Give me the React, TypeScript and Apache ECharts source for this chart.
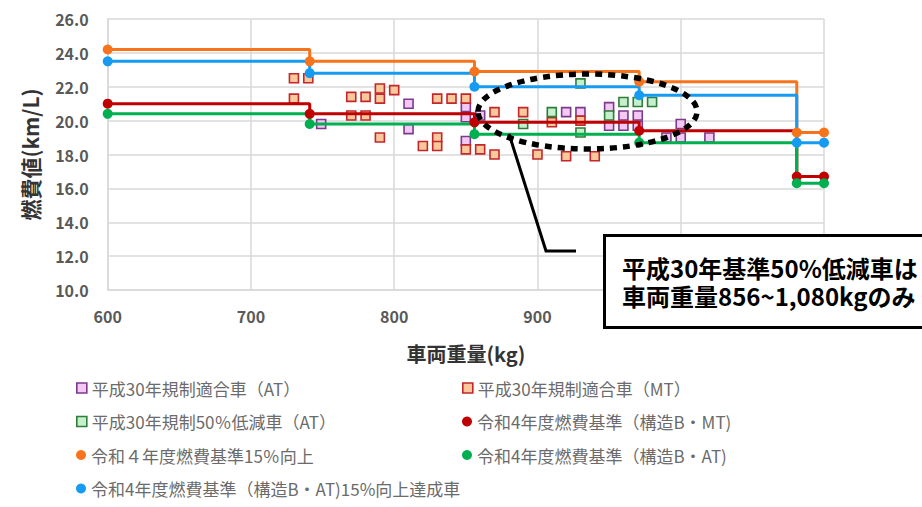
import React, { useEffect, useRef } from "react";
import * as echarts from "echarts";

// ---- data ----
const atVehicles: [number, number][] = [
  [749, 19.8], [810, 21.0], [810, 19.5], [850, 20.8], [850, 20.2], [850, 18.8],
  [860, 20.3], [920, 20.5], [930, 20.5], [950, 20.8], [950, 19.7], [960, 20.3],
  [960, 19.7], [970, 20.3], [970, 19.7], [990, 19.0], [1000, 19.8], [1000, 19.0],
  [1020, 19.0],
];
const mtVehicles: [number, number][] = [
  [730, 22.5], [740, 22.5], [730, 21.3], [770, 21.4], [780, 21.4], [790, 21.9],
  [790, 21.3], [800, 21.8], [770, 20.3], [780, 20.3], [790, 19.0], [820, 18.5],
  [830, 19.0], [830, 18.5], [830, 21.3], [840, 21.3], [850, 21.3], [850, 18.3],
  [860, 18.3], [870, 20.5], [870, 18.0], [890, 20.5], [900, 18.0], [910, 19.9],
  [920, 17.9], [930, 20.0], [940, 17.9],
];
const reduced50Vehicles: [number, number][] = [
  [890, 19.8], [910, 20.5], [930, 22.2], [930, 19.3], [950, 20.3], [960, 21.1],
  [970, 21.1], [980, 21.1],
];
const weightBreaks = [600, 741, 856, 971, 1081, 1100];
const redMTLevels = [21.0, 20.4, 19.9, 19.4, 16.7, 16.7];
const orange15Levels = [24.2, 23.5, 22.9, 22.3, 19.3, 19.3];
const greenATLevels = [20.4, 19.8, 19.2, 18.7, 16.3, 16.3];
const blue15Levels = [23.5, 22.8, 22.0, 21.5, 18.7, 18.7];

const xTicks = { min: 600, max: 1100, interval: 100 };
const yTicks = { min: 10, max: 26, interval: 2 };
// tick labels hidden behind the annotation box in the reference
const hiddenXTickLabels = [1000, 1100];

const annotationLines = ["平成30年基準50%低減車は", "車両重量856~1,080kgのみ"];

const N_AT = "平成30年規制適合車（AT）";
const N_MT = "平成30年規制適合車（MT）";
const N_50 = "平成30年規制50％低減車（AT）";
const N_RED = "令和4年度燃費基準（構造B・MT)";
const N_ORA = "令和４年度燃費基準15％向上";
const N_GRN = "令和4年度燃費基準（構造B・AT)";
const N_BLU = "令和4年度燃費基準（構造B・AT)15%向上達成車";

const FONT = '"Noto Sans CJK JP", "Noto Sans", sans-serif';

const C = {
  red: "#c00000",
  orange: "#f7741c",
  green: "#00b050",
  blue: "#159cf2",
  atFill: "#f3c8f3",
  atBorder: "#7b3a8c",
  mtFill: "#f9c99b",
  mtBorder: "#c3262b",
  gFill: "#c6efce",
  gBorder: "#2e7d3a",
};

const stepData = (levels: number[]) =>
  weightBreaks.map((w, i) => [w, levels[i]]);

export default function App() {
  const ref = useRef<HTMLDivElement>(null);
  useEffect(() => {
    if (!ref.current) return;
    const chart = echarts.init(ref.current, undefined, { renderer: "svg" });
    const scatter = (name: string, data: [number, number][], fill: string, border: string) => ({
      name,
      type: "scatter",
      data,
      symbol: "rect",
      symbolSize: 9,
      itemStyle: { color: fill, borderColor: border, borderWidth: 1.6, opacity: 1 },
      z: 2,
    });
    const step = (name: string, levels: number[], color: string) => ({
      name,
      type: "line",
      step: "end",
      data: stepData(levels),
      symbol: "circle",
      symbolSize: 10,
      showSymbol: true,
      lineStyle: { color, width: 3 },
      itemStyle: { color },
      z: 3,
    });
    const legendText = { fontFamily: FONT, fontSize: 17, color: "#6b6b6b", lineHeight: 20 };
    const gridStyle = { color: "#d9d9d9", width: 1.5 };
    const legendItem = (item: any, left: number, top: number) => ({
      orient: "horizontal",
      left,
      top,
      itemWidth: 10,
      itemHeight: 10,
      itemGap: 6,
      textStyle: legendText,
      data: [item],
    });
    const rowTop = [373, 406.5, 440, 473.5];
    const colLeft = [71, 457];
    chart.setOption({
      animation: false,
      textStyle: { fontFamily: FONT },
      grid: { left: 107.7, right: 98, top: 19, bottom: 217, containLabel: false },
      xAxis: {
        type: "value",
        ...xTicks,
        name: "車両重量(kg)",
        nameLocation: "middle",
        nameGap: 53,
        nameTextStyle: { fontFamily: FONT, fontSize: 20, fontWeight: "bold", color: "#333" },
        axisLine: { show: true, lineStyle: gridStyle },
        axisTick: { show: false },
        axisLabel: {
          fontFamily: FONT, fontSize: 16, fontWeight: "bold", color: "#595959", margin: 18,
          formatter: (v: number) => (hiddenXTickLabels.includes(v) ? "" : String(v)),
        },
        splitLine: { show: true, lineStyle: gridStyle },
      },
      yAxis: {
        type: "value",
        ...yTicks,
        name: "燃費値(km/L)",
        nameLocation: "middle",
        nameGap: 67,
        nameTextStyle: { fontFamily: FONT, fontSize: 21, fontWeight: "bold", color: "#333" },
        axisLine: { show: true, lineStyle: gridStyle },
        axisTick: { show: false },
        axisLabel: {
          fontFamily: FONT, fontSize: 16, fontWeight: "bold", color: "#595959", margin: 19,
          formatter: (v: number) => v.toFixed(1),
        },
        splitLine: { show: true, lineStyle: gridStyle },
      },
      legend: [
        legendItem({ name: N_AT, icon: "rect", itemStyle: { color: C.atFill, borderColor: C.atBorder, borderWidth: 1.6 } }, colLeft[0], rowTop[0]),
        legendItem({ name: N_MT, icon: "rect", itemStyle: { color: C.mtFill, borderColor: C.mtBorder, borderWidth: 1.6 } }, colLeft[1], rowTop[0]),
        legendItem({ name: N_50, icon: "rect", itemStyle: { color: C.gFill, borderColor: C.gBorder, borderWidth: 1.6 } }, colLeft[0], rowTop[1]),
        legendItem({ name: N_RED, icon: "circle", itemStyle: { color: C.red } }, colLeft[1], rowTop[1]),
        legendItem({ name: N_ORA, icon: "circle", itemStyle: { color: C.orange } }, colLeft[0], rowTop[2]),
        legendItem({ name: N_GRN, icon: "circle", itemStyle: { color: C.green } }, colLeft[1], rowTop[2]),
        legendItem({ name: N_BLU, icon: "circle", itemStyle: { color: C.blue } }, colLeft[0], rowTop[3]),
      ],
      series: [
        scatter(N_AT, atVehicles, C.atFill, C.atBorder),
        scatter(N_MT, mtVehicles, C.mtFill, C.mtBorder),
        scatter(N_50, reduced50Vehicles, C.gFill, C.gBorder),
        step(N_RED, redMTLevels, C.red),
        step(N_ORA, orange15Levels, C.orange),
        step(N_GRN, greenATLevels, C.green),
        step(N_BLU, blue15Levels, C.blue),
      ],
      graphic: [
        {
          type: "ellipse",
          z: 100,
          shape: { cx: 587.5, cy: 111.5, rx: 109.5, ry: 37.5 },
          style: { fill: "none", stroke: "#000", lineWidth: 5.5, lineDash: [7, 6] },
        },
        {
          type: "polyline",
          z: 100,
          shape: { points: [[509, 134], [546, 251], [576, 251]] },
          style: { fill: "none", stroke: "#000", lineWidth: 3 },
        },
        {
          type: "rect",
          z: 100,
          shape: { x: 604.5, y: 235.5, width: 330, height: 92 },
          style: { fill: "#fff", stroke: "#000", lineWidth: 3 },
        },
        ...annotationLines.map((line, i) => ({
          type: "text",
          z: 101,
          x: 622,
          y: 267 + i * 28,
          style: {
            text: line,
            fontFamily: FONT,
            fontSize: 24,
            fontWeight: "bold",
            lineHeight: 28,
            fill: "#000",
            verticalAlign: "middle",
          },
        })),
      ],
    });
    return () => chart.dispose();
  }, []);
  return (
    <div
      ref={ref}
      style={{ position: "fixed", left: 0, top: 0, width: 922, height: 507, background: "#fff" }}
    />
  );
}
